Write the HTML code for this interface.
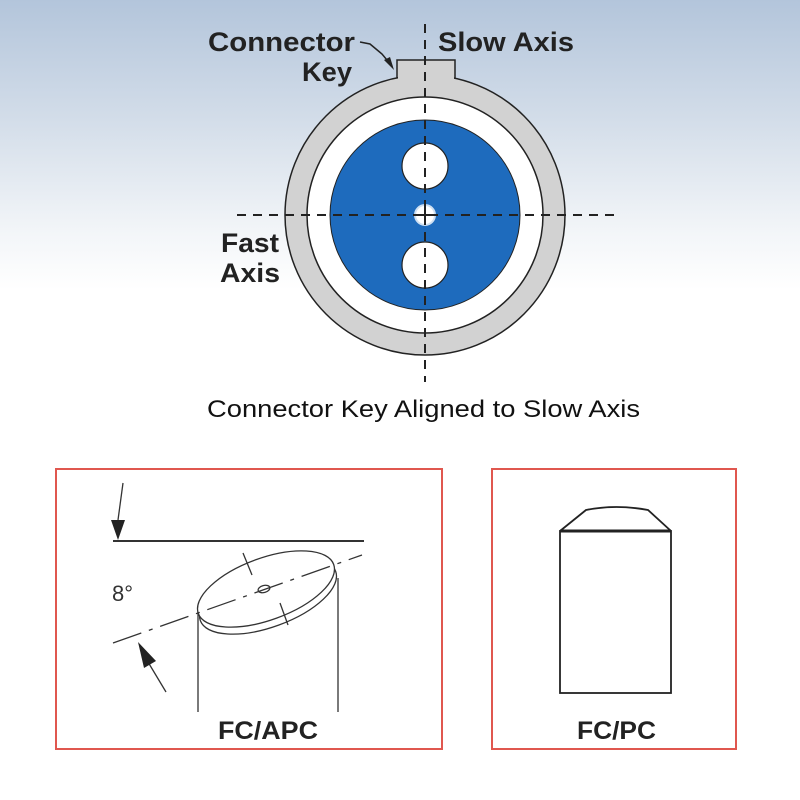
<!DOCTYPE html>
<html><head><style>
html,body{margin:0;padding:0;}
body{width:800px;height:800px;background:linear-gradient(to bottom,#b3c5db 0px,#d3dde9 120px,#f2f5f8 230px,#ffffff 290px,#ffffff 800px);overflow:hidden;}
svg{position:absolute;left:0;top:0;}
</style></head><body>
<svg width="800" height="800" viewBox="0 0 800 800" xmlns="http://www.w3.org/2000/svg">
<rect x="397" y="60" width="58" height="40" fill="#d2d2d2" stroke="#222" stroke-width="1.5"/>
<circle cx="425" cy="215" r="140" fill="#d2d2d2" stroke="#222" stroke-width="1.5"/>
<rect x="398" y="70" width="56" height="40" fill="#d2d2d2"/>
<circle cx="425" cy="215" r="118" fill="#fff" stroke="#222" stroke-width="1.5"/>
<circle cx="425" cy="215" r="95" fill="#1e6bbd" stroke="#222" stroke-width="1"/>
<circle cx="425" cy="166" r="23" fill="#fff" stroke="#222" stroke-width="1.2"/>
<circle cx="425" cy="265" r="23" fill="#fff" stroke="#222" stroke-width="1.2"/>
<circle cx="425" cy="215" r="10" fill="#fff" stroke="#cfe0f2" stroke-width="2"/>
<line x1="425" y1="24" x2="425" y2="382" stroke="#222" stroke-width="2" stroke-dasharray="9,7"/>
<line x1="237" y1="215" x2="614" y2="215" stroke="#222" stroke-width="2" stroke-dasharray="9,7"/>
<line x1="419" y1="215" x2="431" y2="215" stroke="#222" stroke-width="2"/>
<line x1="425" y1="209" x2="425" y2="221" stroke="#222" stroke-width="2"/>
<path d="M360 42 L370 44 L382 54 L392 66" fill="none" stroke="#222" stroke-width="1.5"/>
<polygon points="394,70 384,60 390,57" fill="#222"/>
<g font-family="Liberation Sans, sans-serif" font-weight="bold" fill="#222" font-size="27">
<text x="208" y="51" textLength="147" lengthAdjust="spacingAndGlyphs">Connector</text>
<text x="302" y="81" textLength="50" lengthAdjust="spacingAndGlyphs">Key</text>
<text x="438" y="51" textLength="136" lengthAdjust="spacingAndGlyphs">Slow Axis</text>
<text x="221" y="252" textLength="58" lengthAdjust="spacingAndGlyphs">Fast</text>
<text x="220" y="282" textLength="60" lengthAdjust="spacingAndGlyphs">Axis</text>
</g>
<text x="207" y="417" font-family="Liberation Sans, sans-serif" font-size="24" fill="#111" textLength="433" lengthAdjust="spacingAndGlyphs">Connector Key Aligned to Slow Axis</text>
<rect x="56" y="469" width="386" height="280" fill="#fff" stroke="#e0574f" stroke-width="2"/>
<rect x="492" y="469" width="244" height="280" fill="#fff" stroke="#e0574f" stroke-width="2"/>
<g stroke="#333" fill="none" stroke-width="1.3">
<line x1="113" y1="541" x2="364" y2="541" stroke-width="2"/>
<line x1="123" y1="483" x2="118" y2="520"/>
<line x1="198" y1="612" x2="198" y2="712"/>
<line x1="338" y1="578" x2="338" y2="712"/>
<ellipse cx="268" cy="596" rx="72" ry="31" transform="rotate(-20 268 596)" fill="#fff"/>
<ellipse cx="266" cy="589" rx="72" ry="31" transform="rotate(-20 266 589)" fill="#fff"/>
<ellipse cx="264" cy="589" rx="6" ry="3.5" transform="rotate(-15 264 589)"/>
<line x1="113" y1="643" x2="362" y2="555" stroke-dasharray="30,8,4,8"/>
<line x1="243" y1="553" x2="252" y2="575"/>
<line x1="280" y1="603" x2="288" y2="625"/>
<line x1="166" y1="692" x2="148" y2="662"/>
</g>
<polygon points="111,520 125,520 118,540" fill="#222"/>
<polygon points="138,642 144,668 156,661" fill="#222"/>
<text x="112" y="601" font-family="Liberation Sans, sans-serif" font-size="22" fill="#333">8°</text>
<text x="218" y="739" font-family="Liberation Sans, sans-serif" font-weight="bold" font-size="25" fill="#222" textLength="100" lengthAdjust="spacingAndGlyphs">FC/APC</text>
<g stroke="#222" fill="none" stroke-width="1.8">
<rect x="560" y="531" width="111" height="162"/>
<line x1="560" y1="531" x2="671" y2="531" stroke-width="3"/>
<path d="M560 531 L586 510 Q616 504 648 510 L671 531"/>
</g>
<text x="577" y="739" font-family="Liberation Sans, sans-serif" font-weight="bold" font-size="25" fill="#222" textLength="79" lengthAdjust="spacingAndGlyphs">FC/PC</text>
</svg>
</body></html>
